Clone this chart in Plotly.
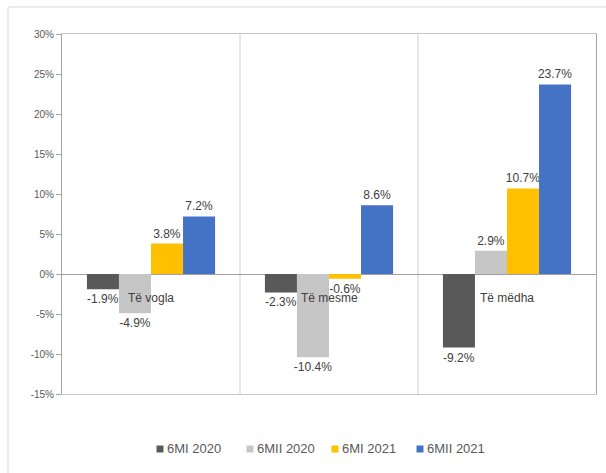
import plotly.graph_objects as go

# Category groups and series values (percent change)
categories = ["Të vogla", "Të mesme", "Të mëdha"]
series_names = ["6MI 2020", "6MII 2020", "6MI 2021", "6MII 2021"]
values_6mi_2020 = [-1.9, -2.3, -9.2]
values_6mii_2020 = [-4.9, -10.4, 2.9]
values_6mi_2021 = [3.8, -0.6, 10.7]
values_6mii_2021 = [7.2, 8.6, 23.7]
series_colors = ["#595959", "#c6c6c6", "#ffc000", "#4472c4"]
y_ticks = [-15, -10, -5, 0, 5, 10, 15, 20, 25, 30]

W, H = 606, 473
M_L, M_R, M_T, M_B = 62, 10, 34, 79
plot_w = W - M_L - M_R
plot_h = H - M_T - M_B
FONT = "Liberation Sans, Arial, sans-serif"


def px_x(px):
    return (px - M_L) / plot_w


def px_y(py):
    return (H - M_B - py) / plot_h


fig = go.Figure()
for name, vals, col in zip(series_names,
                           [values_6mi_2020, values_6mii_2020, values_6mi_2021, values_6mii_2021],
                           series_colors):
    fig.add_trace(go.Bar(
        name=name, x=categories, y=vals,
        marker=dict(color=col, line=dict(width=0)),
        text=[f"{v:.1f}%" for v in vals],
        textposition="outside",
        constraintext="none",
        cliponaxis=False,
        textfont=dict(family=FONT, size=12, color="#404040"),
        hoverinfo="skip",
        showlegend=False,
    ))

# Category labels sit just under the zero line
for cat in categories:
    fig.add_annotation(x=cat, y=0, xref="x", yref="y", text=cat, showarrow=False,
                       yanchor="top", yshift=-15,
                       font=dict(family=FONT, size=12, color="#404040"))

# Dividers between category groups
for xb in [0.5, 1.5]:
    fig.add_shape(type="line", xref="x", yref="paper", x0=xb, x1=xb, y0=0, y1=1,
                  line=dict(color="#d0d0d0", width=1), layer="below")

# Outer chart frame
fig.add_shape(type="rect", xref="paper", yref="paper",
              x0=px_x(8), x1=px_x(612), y0=px_y(7), y1=px_y(480),
              line=dict(color="#d9d9d9", width=1), fillcolor="rgba(0,0,0,0)")

# Compact legend row: small square swatch followed by the series name
legend_y = 449
legend_marker_x = [160, 250, 335, 420]
for name, col, mx in zip(series_names, series_colors, legend_marker_x):
    fig.add_shape(type="rect", xref="paper", yref="paper",
                  x0=px_x(mx - 3.5), x1=px_x(mx + 3.5),
                  y0=px_y(legend_y + 3.5), y1=px_y(legend_y - 3.5),
                  line=dict(width=0), fillcolor=col)
    fig.add_annotation(xref="paper", yref="paper", x=px_x(mx + 5), y=px_y(legend_y),
                       text=name, showarrow=False, xanchor="left", yanchor="middle",
                       font=dict(family=FONT, size=13, color="#595959"))

fig.update_layout(
    width=W, height=H,
    margin=dict(l=M_L, r=M_R, t=M_T, b=M_B),
    paper_bgcolor="white", plot_bgcolor="white",
    barmode="group", bargap=0.28, bargroupgap=0,
    font=dict(family=FONT, color="#595959"),
    showlegend=False,
    xaxis=dict(showticklabels=False, ticks="", showgrid=False,
               showline=True, linecolor="#c8c8c8", mirror=True,
               range=[-0.5, 2.5], fixedrange=True),
    yaxis=dict(range=[-15, 30], tickvals=y_ticks, ticktext=[f"{t}%" for t in y_ticks],
               showgrid=False, zeroline=True, zerolinecolor="#a0a0a0", zerolinewidth=1,
               showline=True, linecolor="#a6a6a6", mirror=True,
               ticks="outside", ticklen=5, tickcolor="#a6a6a6",
               tickfont=dict(size=10, color="#595959"), fixedrange=True),
)

fig.write_html("out.html")
